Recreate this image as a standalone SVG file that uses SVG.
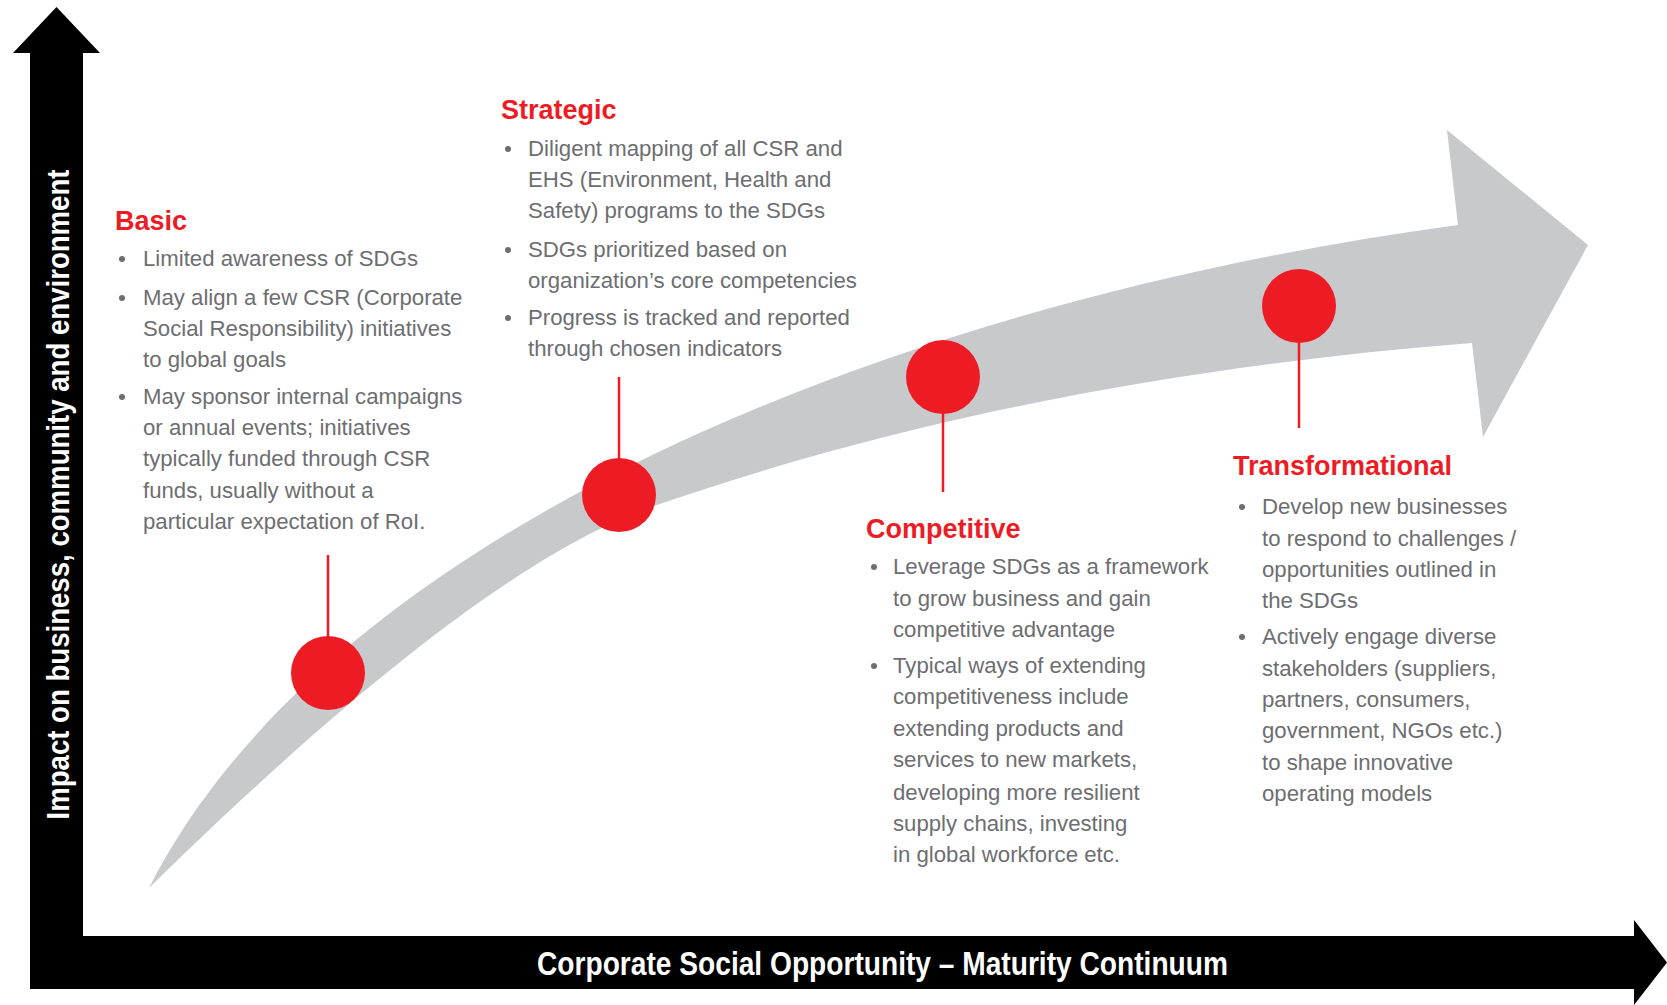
<svg xmlns="http://www.w3.org/2000/svg" width="1667" height="1005" viewBox="0 0 1667 1005">
<style>
.title{font-family:"Liberation Sans",Arial,sans-serif;font-weight:bold;font-size:27px;fill:#ed1c24}
.body{font-family:"Liberation Sans",Arial,sans-serif;font-size:22.2px;fill:#6d6e71}
.dot{fill:#6d6e71}
.pin{fill:#ed1c24}
.conn{stroke:#ed1c24;stroke-width:2.5;fill:none}
.axis{fill:#000}
.axlabel{font-family:"Liberation Sans",Arial,sans-serif;font-weight:bold;fill:#fff}
.band{fill:#c8c9cb}
</style>
<rect width="1667" height="1005" fill="#fff"/>
<g id="axes">
  <path class="axis" d="M30,989 L30,53 L13,53 L56.5,7 L100,53 L83,53 L83,936 L1634,936 L1634,920 L1667,962.5 L1634,1005 L1634,989 Z"/>
  <text class="axlabel" font-size="32" text-anchor="middle" textLength="650" lengthAdjust="spacingAndGlyphs" transform="translate(69,494.5) rotate(-90)">Impact on business, community and environment</text>
  <text class="axlabel" font-size="33" x="882.5" y="975" text-anchor="middle" textLength="691" lengthAdjust="spacingAndGlyphs">Corporate Social Opportunity – Maturity Continuum</text>
</g>
<g id="curve">
  <path class="band" d="M149,888 C330,530 900,300 1458,225 L1447,130 L1588,245 L1483,437 L1472,343 C1202,364 921,413 651,507 C501,560 300,740 149,888 Z"/>
</g>
<g id="connectors">
  <line class="conn" x1="328" y1="673" x2="328" y2="555"/>
  <line class="conn" x1="619" y1="495" x2="619" y2="377"/>
  <line class="conn" x1="943" y1="377" x2="943" y2="492"/>
  <line class="conn" x1="1299" y1="306" x2="1299" y2="428"/>
</g>
<g id="node-basic">
  <circle class="pin" cx="328" cy="673" r="37"/>
  <text class="title" x="115" y="230">Basic</text>
  <circle class="dot" cx="122" cy="259" r="3"/>
  <circle class="dot" cx="122" cy="298" r="3"/>
  <circle class="dot" cx="122" cy="397" r="3"/>
  <text class="body">
    <tspan x="143" y="266">Limited awareness of SDGs</tspan>
    <tspan x="143" y="305">May align a few CSR (Corporate</tspan>
    <tspan x="143" y="336">Social Responsibility) initiatives</tspan>
    <tspan x="143" y="367">to global goals</tspan>
    <tspan x="143" y="404">May sponsor internal campaigns</tspan>
    <tspan x="143" y="435">or annual events; initiatives</tspan>
    <tspan x="143" y="466">typically funded through CSR</tspan>
    <tspan x="143" y="498">funds, usually without a</tspan>
    <tspan x="143" y="529">particular expectation of RoI.</tspan>
  </text>
</g>
<g id="node-strategic">
  <circle class="pin" cx="619" cy="495" r="37"/>
  <text class="title" x="501" y="119">Strategic</text>
  <circle class="dot" cx="508" cy="149" r="3"/>
  <circle class="dot" cx="508" cy="250" r="3"/>
  <circle class="dot" cx="508" cy="318" r="3"/>
  <text class="body">
    <tspan x="528" y="156">Diligent mapping of all CSR and</tspan>
    <tspan x="528" y="187">EHS (Environment, Health and</tspan>
    <tspan x="528" y="218">Safety) programs to the SDGs</tspan>
    <tspan x="528" y="257">SDGs prioritized based on</tspan>
    <tspan x="528" y="288">organization’s core competencies</tspan>
    <tspan x="528" y="325">Progress is tracked and reported</tspan>
    <tspan x="528" y="356">through chosen indicators</tspan>
  </text>
</g>
<g id="node-competitive">
  <circle class="pin" cx="943" cy="377" r="37"/>
  <text class="title" x="866" y="538">Competitive</text>
  <circle class="dot" cx="874" cy="567" r="3"/>
  <circle class="dot" cx="874" cy="666" r="3"/>
  <text class="body">
    <tspan x="893" y="574">Leverage SDGs as a framework</tspan>
    <tspan x="893" y="606">to grow business and gain</tspan>
    <tspan x="893" y="637">competitive advantage</tspan>
    <tspan x="893" y="673">Typical ways of extending</tspan>
    <tspan x="893" y="704">competitiveness include</tspan>
    <tspan x="893" y="736">extending products and</tspan>
    <tspan x="893" y="767">services to new markets,</tspan>
    <tspan x="893" y="800">developing more resilient</tspan>
    <tspan x="893" y="831">supply chains, investing</tspan>
    <tspan x="893" y="862">in global workforce etc.</tspan>
  </text>
</g>
<g id="node-transformational">
  <circle class="pin" cx="1299" cy="306" r="37"/>
  <text class="title" x="1233" y="475">Transformational</text>
  <circle class="dot" cx="1242" cy="507" r="3"/>
  <circle class="dot" cx="1242" cy="637" r="3"/>
  <text class="body">
    <tspan x="1262" y="514">Develop new businesses</tspan>
    <tspan x="1262" y="546">to respond to challenges /</tspan>
    <tspan x="1262" y="577">opportunities outlined in</tspan>
    <tspan x="1262" y="608">the SDGs</tspan>
    <tspan x="1262" y="644">Actively engage diverse</tspan>
    <tspan x="1262" y="676">stakeholders (suppliers,</tspan>
    <tspan x="1262" y="707">partners, consumers,</tspan>
    <tspan x="1262" y="738">government, NGOs etc.)</tspan>
    <tspan x="1262" y="770">to shape innovative</tspan>
    <tspan x="1262" y="801">operating models</tspan>
  </text>
</g>
</svg>
